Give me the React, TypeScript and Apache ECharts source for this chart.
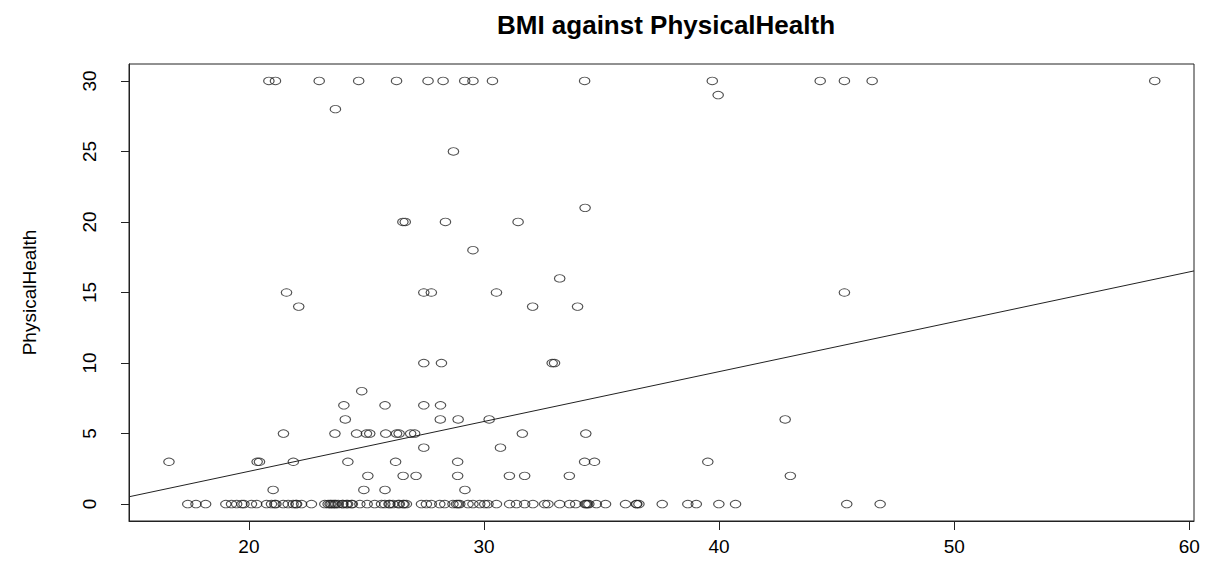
import React, { useEffect, useRef } from "react";
import * as echarts from "echarts";

const TITLE = "BMI against PhysicalHealth";
const Y_NAME = "PhysicalHealth";
const X_TICKS = [20, 30, 40, 50, 60];
const Y_TICKS = [0, 5, 10, 15, 20, 25, 30];
const X_MIN = 14.9;
const X_MAX = 60.2;
const Y_MIN = -1.2;
const Y_MAX = 31.2;

// fitted line
const FIT_INTERCEPT = -4.75;
const FIT_SLOPE = 0.3535;

// BMI values grouped by PhysicalHealth level
const BMI_PH30 = [20.85, 21.13, 22.99, 24.67, 26.28, 27.62, 28.26, 29.18, 29.53, 30.36, 34.28, 39.71, 44.3, 45.33, 46.51, 58.53];
const BMI_PH29 = [39.96];
const BMI_PH28 = [23.68];
const BMI_PH25 = [28.7];
const BMI_PH21 = [34.3];
const BMI_PH20 = [26.55, 26.65, 28.36, 31.45];
const BMI_PH18 = [29.53];
const BMI_PH16 = [33.22];
const BMI_PH15 = [21.6, 27.44, 27.76, 30.53, 45.33];
const BMI_PH14 = [22.12, 32.07, 33.98];
const BMI_PH10 = [27.44, 28.19, 32.9, 33.0];
const BMI_PH8 = [24.8];
const BMI_PH7 = [24.04, 25.79, 27.44, 28.15];
const BMI_PH6 = [24.1, 28.14, 28.9, 30.22, 42.81];
const BMI_PH5 = [21.47, 23.66, 24.58, 25.0, 25.14, 25.82, 26.28, 26.39, 26.88, 27.05, 31.63, 34.33];
const BMI_PH4 = [27.44, 30.7];
const BMI_PH3 = [16.6, 20.35, 20.45, 21.89, 24.21, 26.24, 28.88, 34.28, 34.7, 39.52];
const BMI_PH2 = [25.06, 26.56, 27.11, 28.88, 31.08, 31.73, 33.63, 43.03];
const BMI_PH1 = [21.03, 24.89, 25.79, 29.19];
const BMI_PH0 = [
  17.4, 17.75, 18.16, 19.02, 19.26, 19.48, 19.7, 19.79, 20.11, 20.33, 20.75, 20.96, 21.1, 21.15,
  21.46, 21.67, 21.88, 22.0, 22.03, 22.24, 22.66, 23.23, 23.37, 23.45, 23.5, 23.58, 23.65, 23.7,
  23.8, 23.98, 24.0, 24.15, 24.2, 24.36, 24.4, 24.72, 25.03, 25.35, 25.64, 25.78, 25.96, 26.0,
  26.13, 26.35, 26.4, 26.56, 26.6, 26.7, 27.34, 27.55, 27.76, 28.12, 28.33, 28.68, 28.83, 28.9,
  28.97, 29.32, 29.53, 29.82, 30.03, 30.17, 30.53, 31.09, 31.38, 31.73, 32.08, 32.58, 32.72,
  33.22, 33.64, 33.9, 34.3, 34.35, 34.4, 34.46, 34.78, 35.17, 36.02, 36.48, 36.5, 36.59, 37.58,
  38.67, 39.03, 39.99, 40.7, 45.43, 46.85,
];

const LEVELS: [number, number[]][] = [
  [30, BMI_PH30], [29, BMI_PH29], [28, BMI_PH28], [25, BMI_PH25], [21, BMI_PH21],
  [20, BMI_PH20], [18, BMI_PH18], [16, BMI_PH16], [15, BMI_PH15], [14, BMI_PH14],
  [10, BMI_PH10], [8, BMI_PH8], [7, BMI_PH7], [6, BMI_PH6], [5, BMI_PH5], [4, BMI_PH4],
  [3, BMI_PH3], [2, BMI_PH2], [1, BMI_PH1], [0, BMI_PH0],
];

const FONT = "'Liberation Sans', Arial, sans-serif";

export default function App() {
  const ref = useRef<HTMLDivElement>(null);
  useEffect(() => {
    document.body.style.margin = "0";
    if (!ref.current) return;
    const chart = echarts.init(ref.current, undefined, { renderer: "svg" });
    const points: number[][] = [];
    LEVELS.forEach(([ph, list]) => list.forEach((b) => points.push([b, ph])));
    const fit = [
      [X_MIN, FIT_INTERCEPT + FIT_SLOPE * X_MIN],
      [X_MAX, FIT_INTERCEPT + FIT_SLOPE * X_MAX],
    ];
    chart.setOption({
      animation: false,
      backgroundColor: "#fff",
      title: {
        text: TITLE,
        left: 661,
        textAlign: "center",
        top: 7,
        textStyle: { fontFamily: FONT, fontSize: 26, fontWeight: "bold", color: "#000" },
      },
      grid: {
        left: 129,
        right: 16,
        top: 64,
        bottom: 44,
        show: true,
        borderColor: "#222",
        borderWidth: 1,
        backgroundColor: "transparent",
      },
      xAxis: {
        type: "value",
        min: X_MIN,
        max: X_MAX,
        axisLine: { show: true, onZero: false, lineStyle: { color: "#222" } },
        splitLine: { show: false },
        axisTick: { show: true, inside: false, length: 9, lineStyle: { color: "#222" }, customValues: X_TICKS },
        axisLabel: {
          customValues: X_TICKS,
          fontFamily: FONT,
          fontSize: 19,
          color: "#000",
          margin: 16,
        },
      },
      yAxis: {
        type: "value",
        min: Y_MIN,
        max: Y_MAX,
        name: Y_NAME,
        nameLocation: "middle",
        nameRotate: 90,
        nameGap: 90,
        nameTextStyle: { fontFamily: FONT, fontSize: 19, color: "#000" },
        axisLine: { show: true, onZero: false, lineStyle: { color: "#222" } },
        splitLine: { show: false },
        axisTick: { show: true, inside: false, length: 8, lineStyle: { color: "#222" }, customValues: Y_TICKS },
        axisLabel: {
          customValues: Y_TICKS,
          rotate: 90,
          fontFamily: FONT,
          fontSize: 19,
          color: "#000",
          margin: 30,
        },
      },
      series: [
        {
          type: "scatter",
          data: points,
          symbol: "circle",
          symbolSize: [10.5, 7.5],
          itemStyle: { color: "rgba(0,0,0,0)", borderColor: "#222", borderWidth: 1 },
          z: 3,
        },
        {
          type: "line",
          data: fit,
          showSymbol: false,
          clip: true,
          lineStyle: { color: "#222", width: 1 },
          z: 2,
        },
      ],
    });
    return () => chart.dispose();
  }, []);
  return <div ref={ref} style={{ width: 1210, height: 565 }} />;
}
